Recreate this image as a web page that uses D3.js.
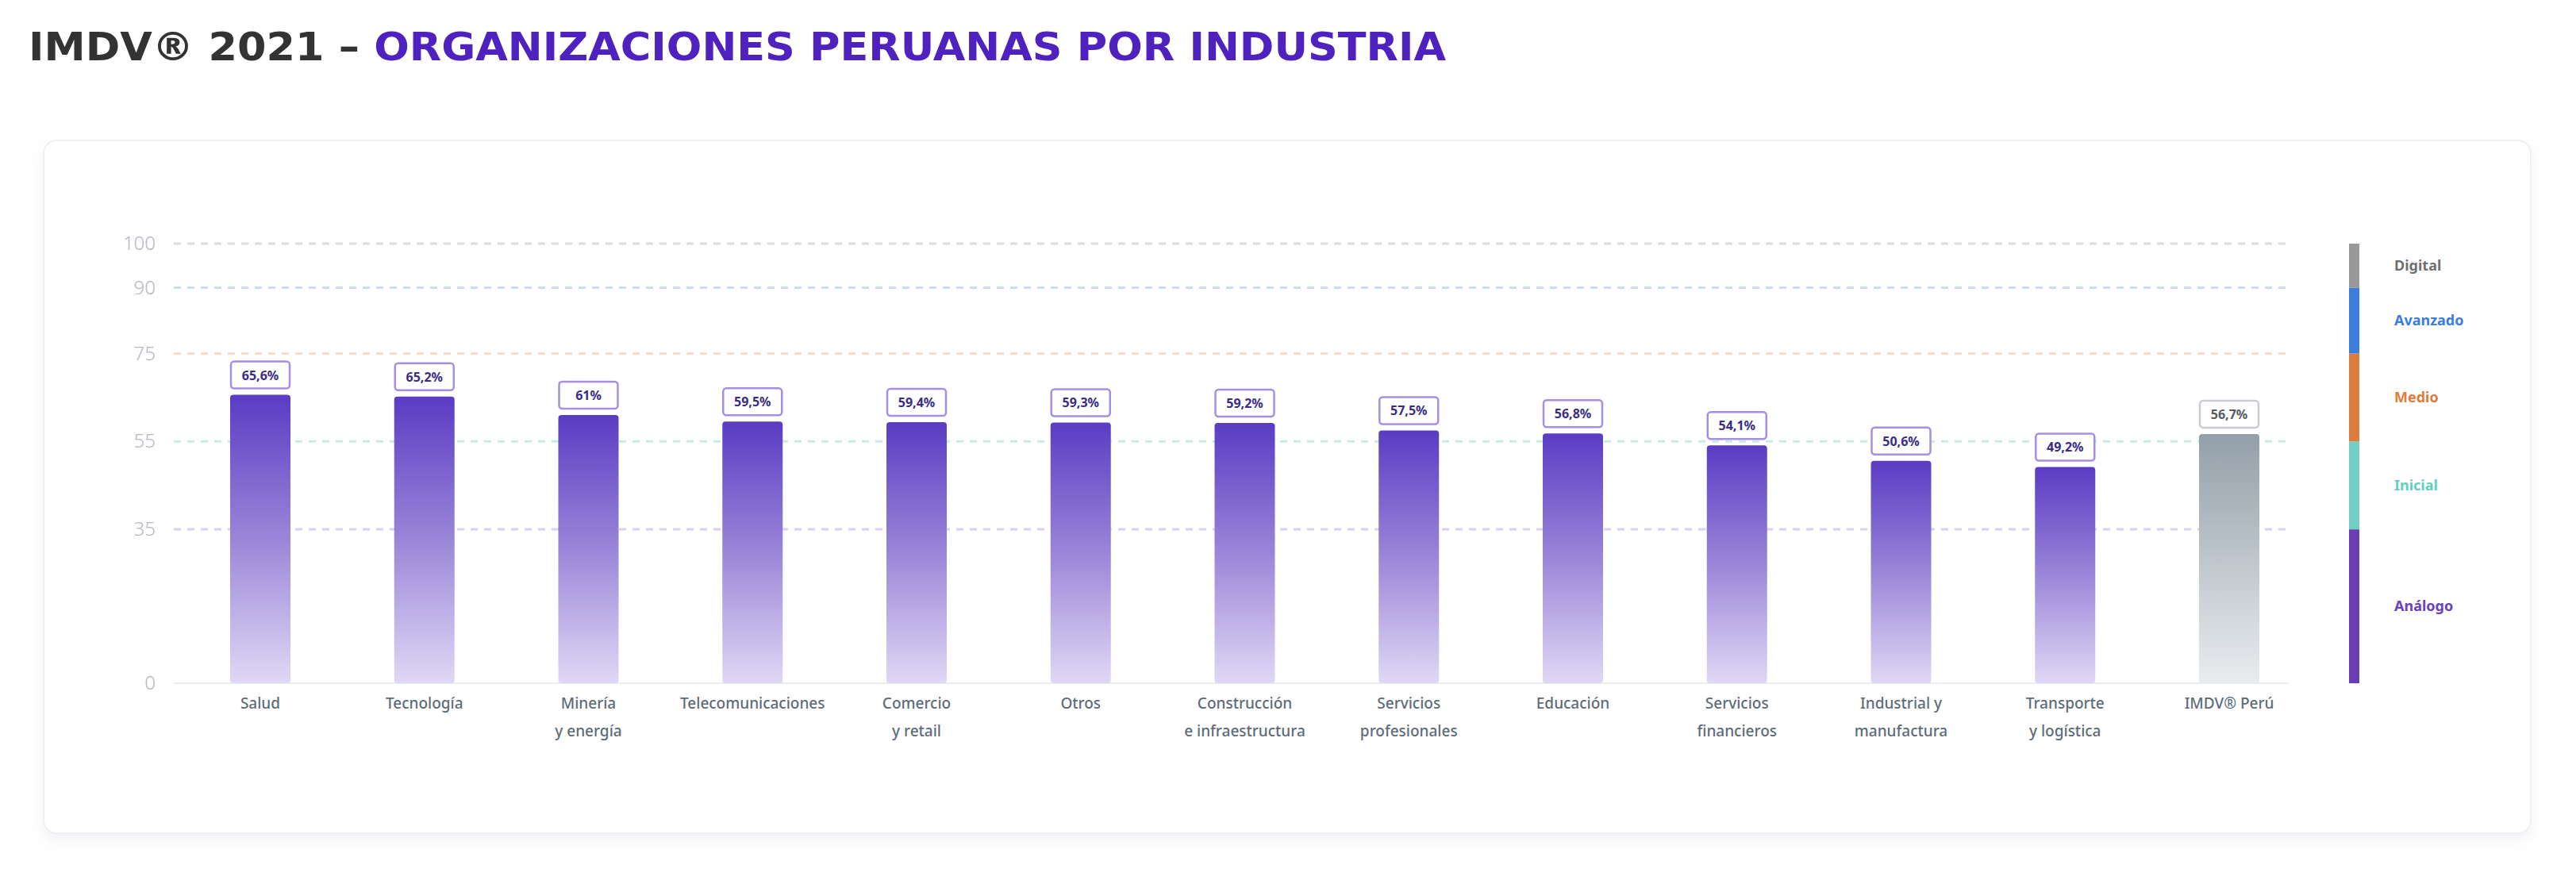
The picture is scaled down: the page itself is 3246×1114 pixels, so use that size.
<!DOCTYPE html>
<html>
<head>
<meta charset="utf-8">
<script src="https://cdn.jsdelivr.net/npm/d3@7"></script>
<style>
  html, body { margin: 0; padding: 0; background: #ffffff; }
  svg { display: block; }
</style>
</head>
<body>
<svg id="chart" width="3246" height="1114"></svg>
<script>
// ---------- DATA ----------
const titleDark = "IMDV® 2021 – ";
const titlePurple = "ORGANIZACIONES PERUANAS POR INDUSTRIA";

const categories = [
  "Salud", "Tecnología", "Minería|y energía", "Telecomunicaciones",
  "Comercio|y retail", "Otros", "Construcción|e infraestructura",
  "Servicios|profesionales", "Educación", "Servicios|financieros",
  "Industrial y|manufactura", "Transporte|y logística", "IMDV® Perú"
];
const values = [65.6, 65.2, 61, 59.5, 59.4, 59.3, 59.2, 57.5, 56.8, 54.1, 50.6, 49.2, 56.7];
const totalCategory = "IMDV® Perú";

const yTicks = [0, 35, 55, 75, 90, 100];

const levelNames = ["Análogo", "Inicial", "Medio", "Avanzado", "Digital"];
const levelFrom  = [0, 35, 55, 75, 90];
const levelTo    = [35, 55, 75, 90, 100];
const levelColors = ["#6a3fb5", "#72cfc4", "#de7b3e", "#3d7ddc", "#999999"];
const levelTextColors = ["#6b42bb", "#62cfc1", "#e07b3c", "#3b7ddd", "#707070"];
const gridColors = {0: "#e9edf0", 35: "#dcd0f2", 55: "#c6ece6", 75: "#f6dccb", 90: "#cddcf3", 100: "#dcdde0"};

// ---------- SETUP ----------
const svg = d3.select("#chart");
const defs = svg.append("defs");

const shadow = defs.append("filter").attr("id", "cardShadow")
  .attr("x", "-5%").attr("y", "-5%").attr("width", "110%").attr("height", "115%");
shadow.append("feDropShadow").attr("dx", 0).attr("dy", 8).attr("stdDeviation", 8)
  .attr("flood-color", "#8a94a6").attr("flood-opacity", 0.12);

const gPurple = defs.append("linearGradient").attr("id", "gradPurple")
  .attr("x1", 0).attr("y1", 0).attr("x2", 0).attr("y2", 1);
gPurple.append("stop").attr("offset", "0%").attr("stop-color", "#5a3cc4");
gPurple.append("stop").attr("offset", "50%").attr("stop-color", "#9a86d8");
gPurple.append("stop").attr("offset", "100%").attr("stop-color", "#e0d8f5");

const gGray = defs.append("linearGradient").attr("id", "gradGray")
  .attr("x1", 0).attr("y1", 0).attr("x2", 0).attr("y2", 1);
gGray.append("stop").attr("offset", "0%").attr("stop-color", "#939fa9");
gGray.append("stop").attr("offset", "100%").attr("stop-color", "#e9ecef");

// ---------- TITLE ----------
const title = svg.append("text")
  .attr("x", 36).attr("y", 76)
  .attr("font-family", "'DejaVu Sans', sans-serif")
  .attr("font-weight", "bold")
  .attr("font-size", 50)
  .attr("textLength", 1786)
  .attr("lengthAdjust", "spacingAndGlyphs");
title.append("tspan").attr("fill", "#333333").text(titleDark);
title.append("tspan").attr("fill", "#4f21bf").text(titlePurple);

// ---------- CARD ----------
svg.append("rect")
  .attr("x", 55).attr("y", 177).attr("width", 3134).attr("height", 873)
  .attr("rx", 16).attr("fill", "#ffffff")
  .attr("stroke", "#eef0f2").attr("stroke-width", 2)
  .attr("filter", "url(#cardShadow)");

// ---------- SCALES ----------
const y = d3.scaleLinear().domain([0, 100]).range([861, 307]);
const x = d3.scalePoint().domain(categories).range([328, 2809]);
const barW = 76;
const gridX0 = 219, gridX1 = 2884;

// ---------- GRID ----------
const grid = svg.append("g");
grid.selectAll("line")
  .data(yTicks)
  .join("line")
  .attr("x1", gridX0).attr("x2", gridX1)
  .attr("y1", d => y(d)).attr("y2", d => y(d))
  .attr("stroke", d => gridColors[d])
  .attr("stroke-width", d => d === 0 ? 2 : 3)
  .attr("stroke-dasharray", d => d === 0 ? null : "9,8");

// ---------- Y AXIS ----------
const yAxis = svg.append("g")
  .attr("transform", `translate(${gridX0},0)`)
  .call(d3.axisLeft(y).tickValues(yTicks).tickSize(0).tickPadding(23).tickFormat(d3.format("d")));
yAxis.select(".domain").remove();
yAxis.selectAll("text")
  .attr("font-family", "'Noto Sans', sans-serif")
  .attr("font-weight", 300)
  .attr("font-size", 24)
  .attr("fill", "#b3b7bf");

// ---------- BARS ----------
const data = categories.map((c, i) => ({ cat: c, value: values[i], total: c === totalCategory }));

svg.append("g").selectAll("rect")
  .data(data)
  .join("rect")
  .attr("x", d => x(d.cat) - barW / 2)
  .attr("y", d => y(d.value))
  .attr("width", barW)
  .attr("height", d => y(0) - y(d.value))
  .attr("rx", 4)
  .attr("fill", d => d.total ? "url(#gradGray)" : "url(#gradPurple)");

// ---------- VALUE LABELS ----------
const fmt = v => String(v).replace(".", ",") + "%";
const lab = svg.append("g").selectAll("g")
  .data(data)
  .join("g")
  .attr("transform", d => `translate(${x(d.cat)},${y(d.value) - 8})`);
lab.append("rect")
  .attr("x", -barW / 2 + 1).attr("y", -34)
  .attr("width", barW - 2).attr("height", 34)
  .attr("rx", 4)
  .attr("fill", "#ffffff")
  .attr("stroke", d => d.total ? "#c9cdd2" : "#a68ee4")
  .attr("stroke-width", 2.5);
lab.append("text")
  .attr("x", 0).attr("y", -11)
  .attr("text-anchor", "middle")
  .attr("font-family", "'Noto Sans', sans-serif")
  .attr("font-weight", "bold")
  .attr("font-size", 16)
  .attr("fill", d => d.total ? "#555a60" : "#3b2c85")
  .text(d => fmt(d.value));

// ---------- CATEGORY LABELS ----------
const cl = svg.append("g").selectAll("text")
  .data(data)
  .join("text")
  .attr("text-anchor", "middle")
  .attr("font-family", "'Noto Sans', sans-serif")
  .attr("font-weight", 500)
  .attr("font-size", 19)
  .attr("fill", "#5d6c78");
cl.each(function(d) {
  const lines = d.cat.split("|");
  d3.select(this).selectAll("tspan")
    .data(lines)
    .join("tspan")
    .attr("x", x(d.cat))
    .attr("y", (l, i) => 893 + i * 35)
    .text(l => l);
});

// ---------- LEGEND ----------
const legendX = 2960, legendW = 13;
const levels = levelNames.map((n, i) => ({ name: n, from: levelFrom[i], to: levelTo[i], color: levelColors[i], tcolor: levelTextColors[i] }));
const lg = svg.append("g");
lg.selectAll("rect")
  .data(levels)
  .join("rect")
  .attr("x", legendX)
  .attr("y", d => y(d.to))
  .attr("width", legendW)
  .attr("height", d => y(d.from) - y(d.to))
  .attr("fill", d => d.color);
lg.selectAll("text")
  .data(levels)
  .join("text")
  .attr("x", 3017)
  .attr("y", d => y((d.from + d.to) / 2))
  .attr("dy", "0.35em")
  .attr("font-family", "'Noto Sans', sans-serif")
  .attr("font-weight", "bold")
  .attr("font-size", 18)
  .attr("fill", d => d.tcolor)
  .text(d => d.name);
</script>
</body>
</html>
